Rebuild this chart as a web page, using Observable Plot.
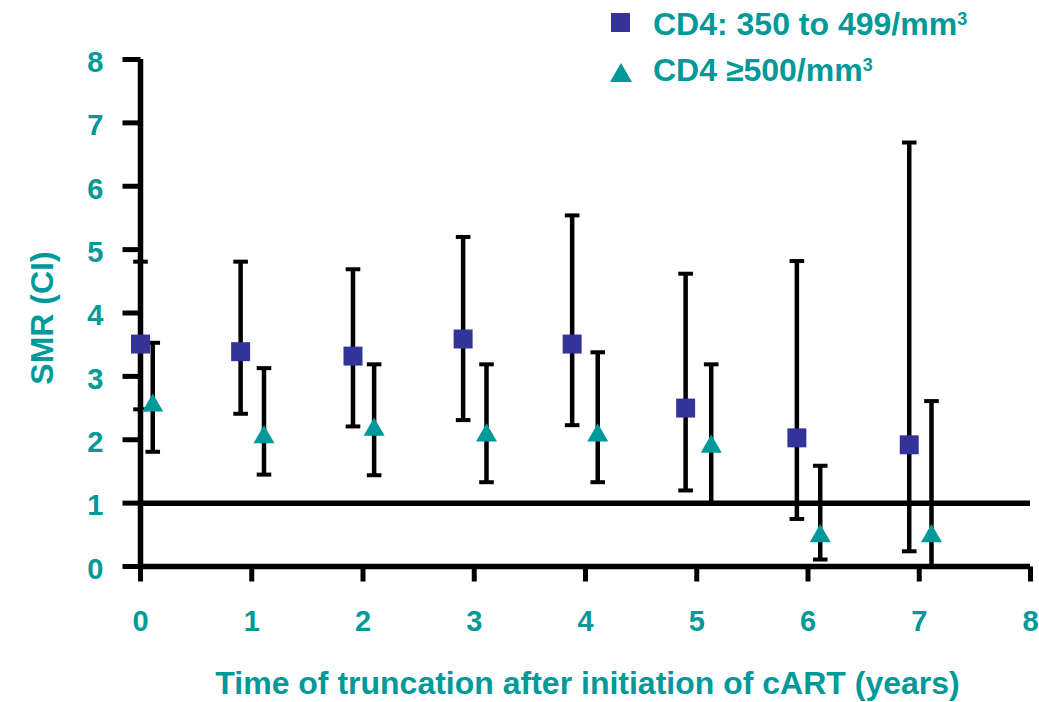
<!DOCTYPE html>
<html><head><meta charset="utf-8">
<script src="https://cdn.jsdelivr.net/npm/d3@7"></script>
<script src="https://cdn.jsdelivr.net/npm/@observablehq/plot@0.6"></script>
<style>
body{margin:0;background:#fff;}
#wrap{position:relative;width:1039px;height:702px;font-family:"Liberation Sans",Arial,Helvetica,sans-serif;}
#legend{position:absolute;left:0;top:0;}
</style></head>
<body>
<div id="wrap">
<div id="chart"></div>
<svg id="legend" width="1039" height="100" font-family="Liberation Sans, Arial, Helvetica, sans-serif" font-weight="bold" font-size="32">
</svg>
</div>
<script>
// ---- data ----
const xTickValues = [0, 1, 2, 3, 4, 5, 6, 7, 8];
const yTickValues = [0, 1, 2, 3, 4, 5, 6, 7, 8];
const seriesNames = ["CD4: 350 to 499/mm", "CD4 \u2265500/mm"];

// CD4 350-499 (squares)
const xSquare   = [0.00, 0.90, 1.91, 2.90, 3.88, 4.90, 5.90, 6.91];
const smrSquare = [3.51, 3.39, 3.32, 3.59, 3.51, 2.50, 2.03, 1.92];
const loSquare  = [2.48, 2.41, 2.21, 2.31, 2.23, 1.20, 0.75, 0.24];
const hiSquare  = [4.81, 4.81, 4.69, 5.20, 5.54, 4.62, 4.82, 6.69];

// CD4 >=500 (triangles)
const xTriangle   = [0.11, 1.11, 2.10, 3.11, 4.11, 5.13, 6.11, 7.11];
const smrTriangle = [2.54, 2.04, 2.16, 2.07, 2.07, 1.89, 0.48, 0.48];
const loTriangle  = [1.81, 1.45, 1.44, 1.33, 1.33, 1.00, 0.11, 0.00];
const hiTriangle  = [3.53, 3.13, 3.19, 3.19, 3.38, 3.19, 1.59, 2.61];

const teal = "#009999", navy = "#333399";
const font = "Liberation Sans, Arial, Helvetica, sans-serif";

const rows = (xs, ys, los, his) => xs.map((x, i) => ({x, y: ys[i], lo: los[i], hi: his[i]}));
const sq = rows(xSquare, smrSquare, loSquare, hiSquare);
const tr = rows(xTriangle, smrTriangle, loTriangle, hiTriangle);

const len = (size) => Math.sqrt(size / Math.PI);
const cap = {draw(ctx, size) { const r = len(size); ctx.moveTo(-r, 0); ctx.lineTo(r, 0); }};
const tickLeft = {draw(ctx, size) { const r = len(size); ctx.moveTo(-r, 0); ctx.lineTo(0, 0); }};
const tickDown = {draw(ctx, size) { const r = len(size); ctx.moveTo(0, 0); ctx.lineTo(0, r); }};

const errMarks = (data) => [
  Plot.ruleX(data, {x: "x", y1: "lo", y2: "hi", stroke: "black", strokeWidth: 4.5}),
  Plot.dot(data, {x: "x", y: "lo", symbol: cap, r: 7.3, stroke: "black", strokeWidth: 4, fill: "none"}),
  Plot.dot(data, {x: "x", y: "hi", symbol: cap, r: 7.3, stroke: "black", strokeWidth: 4, fill: "none"})
];

const chart = Plot.plot({
  width: 1039, height: 702,
  marginLeft: 140, marginRight: 9, marginTop: 59, marginBottom: 136,
  x: {domain: [0, 8], axis: null},
  y: {domain: [0, 8], axis: null},
  style: {fontFamily: font, background: "white", overflow: "visible"},
  marks: [
    Plot.ruleY([1], {stroke: "black", strokeWidth: 5.5}),
    Plot.ruleY([0], {stroke: "black", strokeWidth: 5.5}),
    Plot.ruleX([0], {stroke: "black", strokeWidth: 5.5}),
    // y axis ticks and labels
    Plot.dot(yTickValues, {x: 0, y: d => d, symbol: tickLeft, r: 18, stroke: "black", strokeWidth: 5, fill: "none"}),
    Plot.text(yTickValues, {x: 0, y: d => d, text: d => String(d), dx: -37, dy: 3, textAnchor: "end", lineAnchor: "middle", fontSize: 29, fontWeight: "bold", fill: teal}),
    // x axis ticks and labels
    Plot.dot(xTickValues, {x: d => d, y: 0, symbol: tickDown, r: 15, stroke: "black", strokeWidth: 5, fill: "none"}),
    Plot.text(xTickValues, {x: d => d, y: 0, text: d => String(d), dy: 44, textAnchor: "middle", lineAnchor: "top", fontSize: 29, fontWeight: "bold", fill: teal}),
    ...errMarks(sq),
    ...errMarks(tr),
    Plot.dot(sq, {x: "x", y: "y", symbol: "square", r: 10.7, fill: navy, stroke: "none"}),
    Plot.dot(tr, {x: "x", y: "y", symbol: "triangle", r: 7.8, fill: teal, stroke: "none"}),
    Plot.text(["Time of truncation after initiation of cART (years)"], {text: d => d, frameAnchor: "bottom", dy: 127, dx: 2, lineAnchor: "bottom", textAnchor: "middle", fontSize: 32, fontWeight: "bold", fill: teal}),
    Plot.text(["SMR (CI)"], {text: d => d, frameAnchor: "left", dx: -88, dy: 5, rotate: -90, lineAnchor: "bottom", textAnchor: "middle", fontSize: 32, fontWeight: "bold", fill: teal})
  ]
});
document.getElementById("chart").appendChild(chart);

// legend
const leg = d3.select("#legend");
leg.append("rect").attr("x", 611).attr("y", 13).attr("width", 19).attr("height", 19).attr("fill", navy);
leg.append("path").attr("d", "M610,82L632,82L621,63Z").attr("fill", teal);
const t1 = leg.append("text").attr("x", 653).attr("y", 35).attr("fill", teal);
t1.append("tspan").text(seriesNames[0]);
t1.append("tspan").attr("font-size", 18).attr("dy", -10).text("3");
const t2 = leg.append("text").attr("x", 653).attr("y", 81).attr("fill", teal);
t2.append("tspan").text(seriesNames[1]);
t2.append("tspan").attr("font-size", 18).attr("dy", -10).text("3");
</script>
</body></html>
